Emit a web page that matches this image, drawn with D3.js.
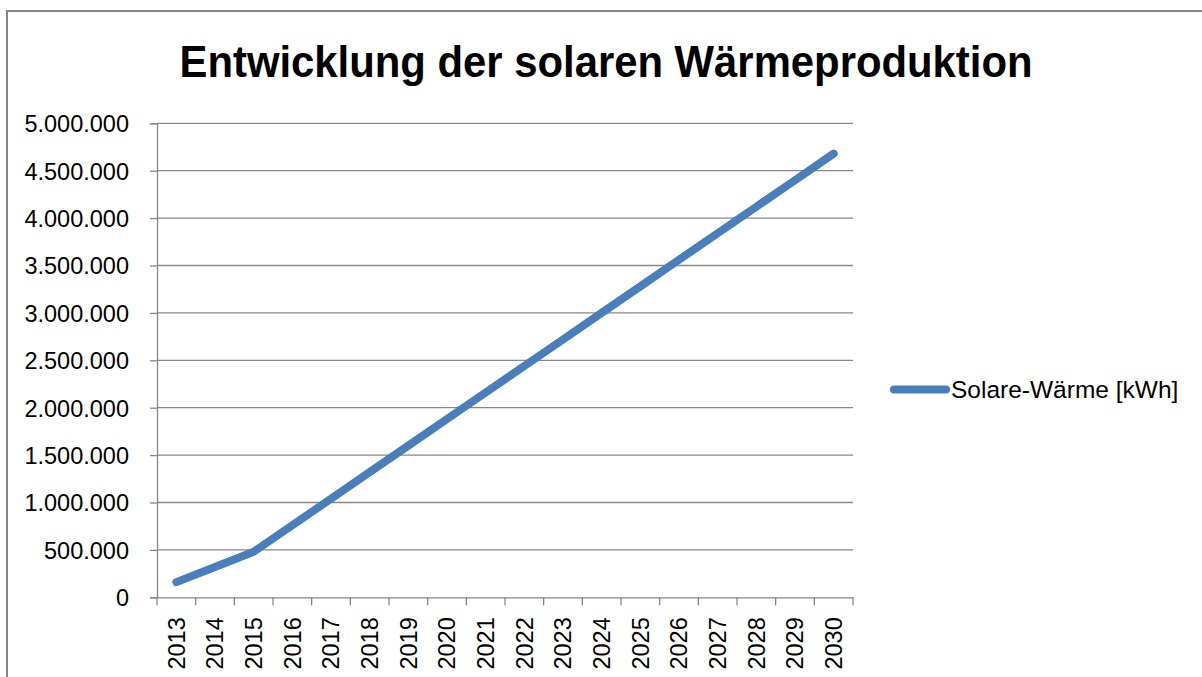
<!DOCTYPE html>
<html>
<head>
<meta charset="utf-8">
<script src="https://cdn.jsdelivr.net/npm/d3@7"></script>
<style>
  body { margin: 0; background: #fff; }
  svg { display: block; }
  .tick text { font-family: "Liberation Sans", Arial, sans-serif; fill: #000; }
</style>
</head>
<body>
<script>
var w = 1202;
var h = 677;

var years = ["2013", "2014", "2015", "2016", "2017", "2018", "2019", "2020", "2021",
             "2022", "2023", "2024", "2025", "2026", "2027", "2028", "2029", "2030"];
var solarHeat = [160000, 320000, 480000, 760000, 1040000, 1320000, 1600000, 1880000, 2160000,
                 2440000, 2720000, 3000000, 3280000, 3560000, 3840000, 4120000, 4400000, 4680000];
var yTicks = [0, 500000, 1000000, 1500000, 2000000, 2500000, 3000000, 3500000, 4000000, 4500000, 5000000];
var seriesName = "Solare-Wärme [kWh]";
var title = "Entwicklung der solaren Wärmeproduktion";

var plot = {left: 157, right: 853, top: 123.3, bottom: 597.3};

var svg = d3.select("body")
            .append("svg")
            .attr("width", w)
            .attr("height", h);

// outer chart border
svg.append("rect")
   .attr("x", 7)
   .attr("y", 11)
   .attr("width", w + 10)
   .attr("height", h + 10)
   .attr("fill", "none")
   .attr("stroke", "#868686")
   .attr("stroke-width", 2);

var xScale = d3.scaleBand()
               .domain(years)
               .range([plot.left, plot.right]);

var yScale = d3.scaleLinear()
               .domain([0, 5000000])
               .range([plot.bottom, plot.top]);

var de = d3.formatLocale({decimal: ",", thousands: ".", grouping: [3], currency: ["", " €"]});
var fmt = de.format(",d");

// grid lines
svg.selectAll("gridLines")
   .data(yTicks.filter(function(d) { return d > 0; }))
   .enter()
   .append("line")
   .attr("x1", plot.left)
   .attr("x2", plot.right)
   .attr("y1", function(d) { return yScale(d); })
   .attr("y2", function(d) { return yScale(d); })
   .attr("stroke", "#878787")
   .attr("stroke-width", 1.3);

// y axis
var yAxis = d3.axisLeft(yScale)
              .tickValues(yTicks)
              .tickFormat(fmt)
              .tickSize(7)
              .tickPadding(21);

var gy = svg.append("g")
   .attr("transform", "translate(" + plot.left + ",0)")
   .call(yAxis);
gy.selectAll("text").style("font-size", "23.5px").attr("dy", "0.36em");

// x axis: ticks on category boundaries
var boundaries = years.map(function(d) { return xScale(d); }).concat([plot.right]);

var xAxis = d3.axisBottom(xScale).tickSize(0).tickPadding(0);
var gx = svg.append("g")
   .attr("transform", "translate(0," + plot.bottom + ")")
   .call(xAxis);
gx.selectAll("text")
  .style("font-size", "23.5px")
  .attr("text-anchor", "end")
  .attr("transform", "translate(0,20) rotate(-90)")
  .attr("dy", "0.35em")
  .attr("y", 0)
  .attr("x", 0);
gx.selectAll(".tick line").remove();

svg.selectAll("xTickMarks")
   .data(boundaries)
   .enter()
   .append("line")
   .attr("x1", function(d) { return d; })
   .attr("x2", function(d) { return d; })
   .attr("y1", plot.bottom)
   .attr("y2", plot.bottom + 8)
   .attr("stroke", "#878787")
   .attr("stroke-width", 1.3);

svg.selectAll(".domain")
   .attr("stroke", "#878787")
   .attr("stroke-width", 1.3);
svg.selectAll(".tick line")
   .attr("stroke", "#878787")
   .attr("stroke-width", 1.3);

// series line
var line = d3.line()
             .x(function(d, i) { return xScale(years[i]) + xScale.bandwidth() / 2; })
             .y(function(d) { return yScale(d); });

svg.append("path")
   .datum(solarHeat)
   .attr("d", line)
   .attr("fill", "none")
   .attr("stroke", "#4a7ebb")
   .attr("stroke-width", 8)
   .attr("stroke-linecap", "round")
   .attr("stroke-linejoin", "round");

// title
svg.append("text")
   .attr("x", 606)
   .attr("y", 77)
   .attr("text-anchor", "middle")
   .attr("textLength", 853)
   .attr("lengthAdjust", "spacingAndGlyphs")
   .style("font-family", "'Liberation Sans', Arial, sans-serif")
   .style("font-weight", "bold")
   .style("font-size", "44px")
   .text(title);

// legend
svg.append("line")
   .attr("x1", 894)
   .attr("x2", 946)
   .attr("y1", 389.5)
   .attr("y2", 389.5)
   .attr("stroke", "#4a7ebb")
   .attr("stroke-width", 8)
   .attr("stroke-linecap", "round");

svg.append("text")
   .attr("x", 951)
   .attr("y", 397.5)
   .style("font-family", "'Liberation Sans', Arial, sans-serif")
   .style("font-size", "24.5px")
   .text(seriesName);
</script>
</body>
</html>
